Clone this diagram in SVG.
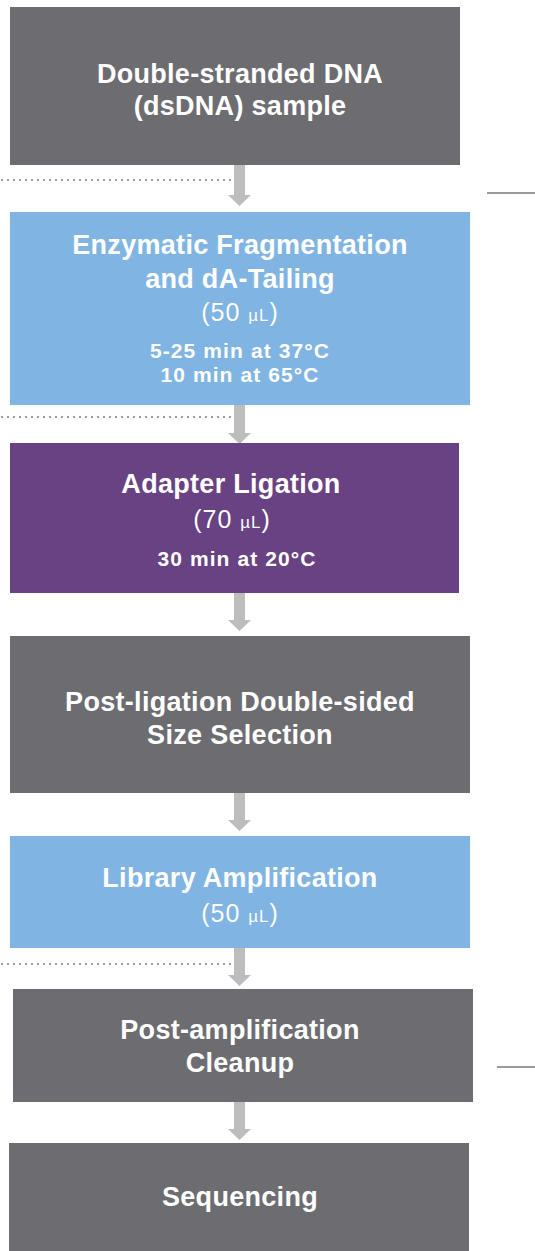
<svg xmlns="http://www.w3.org/2000/svg" width="535" height="1251" viewBox="0 0 535 1251">
<defs>
<style>
.grey{fill:#6c6c71}
.blue{fill:#80b4e2}
.purple{fill:#694283}
.t{font-family:"Liberation Sans",Arial,sans-serif;font-weight:bold;font-size:27px;letter-spacing:0.3px;fill:#fff;text-anchor:middle}
.v{font-family:"Liberation Sans",Arial,sans-serif;font-size:25px;letter-spacing:1px;fill:#fff;text-anchor:middle}
.vs{font-size:17px}
.s{font-family:"Liberation Sans",Arial,sans-serif;font-weight:bold;font-size:21px;letter-spacing:1.1px;fill:#fff;text-anchor:middle}
.arr{fill:#bdbdbf}
.dot{stroke:#9a9a9c;stroke-width:2;stroke-dasharray:2 4;fill:none}
.gl{stroke:#9a9a9c;stroke-width:2;fill:none}
</style>
</defs>
<g id="connectors">
<path class="arr" d="M234 165h11v30h6l-11.5 11l-11.5-11h6z"/>
<path class="arr" d="M234 405h11v28h6l-11.5 11l-11.5-11h6z"/>
<path class="arr" d="M234 593h11v27h6l-11.5 11l-11.5-11h6z"/>
<path class="arr" d="M234 793h11v27h6l-11.5 11l-11.5-11h6z"/>
<path class="arr" d="M234 948h11v27h6l-11.5 11l-11.5-11h6z"/>
<path class="arr" d="M234 1102h11v27h6l-11.5 11l-11.5-11h6z"/>
<line class="dot" x1="1" y1="180" x2="233" y2="180"/>
<line class="dot" x1="1" y1="417" x2="235" y2="417"/>
<line class="dot" x1="1" y1="964" x2="235" y2="964"/>
<line class="gl" x1="487" y1="193" x2="535" y2="193"/>
<line class="gl" x1="497" y1="1067" x2="535" y2="1067"/>
</g>
<g id="node1">
<rect class="grey" x="10" y="7" width="450" height="158"/>
<text class="t" x="240" y="83">Double-stranded DNA</text>
<text class="t" x="240" y="115">(dsDNA) sample</text>
</g>
<g id="node2">
<rect class="blue" x="10" y="212" width="460" height="193"/>
<text class="t" x="240" y="254">Enzymatic Fragmentation</text>
<text class="t" x="240" y="288">and dA-Tailing</text>
<text class="v" x="240" y="321">(50 <tspan class="vs">µL</tspan>)</text>
<text class="s" x="240" y="358">5-25 min at 37°C</text>
<text class="s" x="240" y="382">10 min at 65°C</text>
</g>
<g id="node3">
<rect class="purple" x="10" y="443" width="449" height="150"/>
<text class="t" x="231" y="493">Adapter Ligation</text>
<text class="v" x="232" y="528">(70 <tspan class="vs">µL</tspan>)</text>
<text class="s" x="237" y="566">30 min at 20°C</text>
</g>
<g id="node4">
<rect class="grey" x="10" y="636" width="460" height="157"/>
<text class="t" x="240" y="711">Post-ligation Double-sided</text>
<text class="t" x="240" y="744">Size Selection</text>
</g>
<g id="node5">
<rect class="blue" x="10" y="836" width="460" height="112"/>
<text class="t" x="240" y="887">Library Amplification</text>
<text class="v" x="240" y="922">(50 <tspan class="vs">µL</tspan>)</text>
</g>
<g id="node6">
<rect class="grey" x="13" y="989" width="460" height="113"/>
<text class="t" x="240" y="1039">Post-amplification</text>
<text class="t" x="240" y="1072">Cleanup</text>
</g>
<g id="node7">
<rect class="grey" x="9" y="1143" width="460" height="108"/>
<text class="t" x="240" y="1206">Sequencing</text>
</g>
</svg>
